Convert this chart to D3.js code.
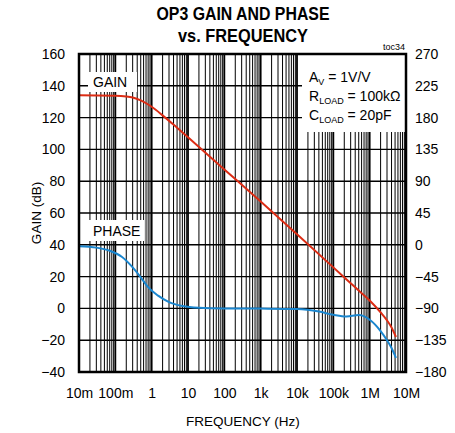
<!DOCTYPE html>
<html><head><meta charset="utf-8">
<script src="https://cdn.jsdelivr.net/npm/d3@7"></script>
<style>
body{margin:0;background:#fff;}
text{font-family:"Liberation Sans",Arial,sans-serif;fill:#000;}
</style></head>
<body><svg id="c" width="455" height="433"></svg>
<script>
// ---- data ----
const freqTicks = [0.01, 0.1, 1, 10, 100, 1e3, 1e4, 1e5, 1e6, 1e7];
const freqLabels = ["10m", "100m", "1", "10", "100", "1k", "10k", "100k", "1M", "10M"];
const gainTicks = [-40, -20, 0, 20, 40, 60, 80, 100, 120, 140, 160];
const phaseTicks = [-180, -135, -90, -45, 0, 45, 90, 135, 180, 225, 270];

const gainFreq = [0.01, 0.1, 0.2, 0.3, 0.5, 1, 2, 5, 10, 100, 1e3, 1e4, 1e5, 5e5, 1e6, 2e6, 3e6, 4e6, 5.3e6];
const gainDb   = [134, 133.8, 133.3, 132.6, 130.8, 126.8, 121.4, 113.6, 107.6, 87.4, 67.2, 46.6, 25.8, 11.2, 5, -2.5, -7.5, -12, -18];

const phaseFreq = [0.01, 0.03, 0.07, 0.15, 0.3, 0.5, 0.8, 1.5, 3, 7, 20, 100, 1e3, 1e4, 4e4, 1e5, 2.3e5, 5e5, 1e6, 2e6, 3e6, 4e6, 5.3e6];
const phaseDeg  = [-2, -4, -8.5, -17, -32, -46, -60, -72, -81, -86.5, -89, -90, -90.3, -91, -94.5, -99, -101.5, -99.5, -106, -122, -135, -146, -160];

// ---- layout ----
const svg = d3.select("#c");
const L = 79, R = 406, T = 54, B = 372;
const x = d3.scaleLog().domain([0.01, 1e7]).range([L, R]);
const y = d3.scaleLinear().domain([-40, 160]).range([B, T]);
const yp = d3.scaleLinear().domain([-180, 270]).range([B, T]);

// grid
const grid = svg.append("g");
const minor = [];
for (let e = -2; e < 7; e++) for (let k = 2; k <= 9; k++) minor.push(k * Math.pow(10, e));
grid.selectAll("line.mn").data(minor).enter().append("line")
  .attr("x1", d => x(d)).attr("x2", d => x(d)).attr("y1", T).attr("y2", B)
  .attr("stroke", "#000").attr("stroke-width", 1);
grid.selectAll("line.mj").data(freqTicks).enter().append("line")
  .attr("x1", d => x(d)).attr("x2", d => x(d)).attr("y1", T).attr("y2", B)
  .attr("stroke", "#000").attr("stroke-width", 1.8);
grid.selectAll("line.h").data(gainTicks).enter().append("line")
  .attr("x1", L).attr("x2", R).attr("y1", d => y(d)).attr("y2", d => y(d))
  .attr("stroke", "#000").attr("stroke-width", 1.4);

// white label boxes
svg.append("rect").attr("x", 88).attr("y", 72).attr("width", 49).attr("height", 20).attr("fill", "#fff");
svg.append("rect").attr("x", 88).attr("y", 220).attr("width", 56).attr("height", 21).attr("fill", "#fff");
svg.append("rect").attr("x", 302).attr("y", T).attr("width", R - 302).attr("height", 132 - T).attr("fill", "#fff");

svg.append("text").attr("x", 93).attr("y", 87).attr("font-size", 14).text("GAIN");
svg.append("text").attr("x", 93).attr("y", 236).attr("font-size", 14).text("PHASE");

const ann = svg.append("g").attr("font-size", 14);
function annLine(yy, main, sub, rest) {
  const t = ann.append("text").attr("x", 309).attr("y", yy);
  t.append("tspan").text(main);
  t.append("tspan").attr("font-size", 9).attr("dy", 3).text(sub);
  t.append("tspan").attr("dy", -3).text(rest);
}
annLine(82, "A", "V", " = 1V/V");
annLine(101, "R", "LOAD", " = 100k\u03A9");
annLine(120, "C", "LOAD", " = 20pF");

// curves
const lg = d3.line().x(d => x(d[0])).y(d => y(d[1])).curve(d3.curveMonotoneX);
const lp = d3.line().x(d => x(d[0])).y(d => yp(d[1])).curve(d3.curveMonotoneX);
svg.append("path").attr("d", lg(gainFreq.map((f, i) => [f, gainDb[i]])))
  .attr("fill", "none").attr("stroke", "#dc2c14").attr("stroke-width", 2);
svg.append("path").attr("d", lp(phaseFreq.map((f, i) => [f, phaseDeg[i]])))
  .attr("fill", "none").attr("stroke", "#1a86cf").attr("stroke-width", 2);

// frame
svg.append("rect").attr("x", L).attr("y", T).attr("width", R - L).attr("height", B - T)
  .attr("fill", "none").attr("stroke", "#000").attr("stroke-width", 2.5);

// axes
const ax = svg.append("g").attr("transform", `translate(0,${B})`)
  .call(d3.axisBottom(x).tickValues(freqTicks).tickFormat((d, i) => freqLabels[i]).tickSize(0).tickPadding(16));
const ay = svg.append("g").attr("transform", `translate(${L},0)`)
  .call(d3.axisLeft(y).tickValues(gainTicks).tickSize(0).tickPadding(14));
const ayr = svg.append("g").attr("transform", `translate(${R},0)`)
  .call(d3.axisRight(yp).tickValues(phaseTicks).tickSize(0).tickPadding(9));
[ax, ay, ayr].forEach(g => {
  g.select(".domain").remove();
  g.selectAll("text").attr("font-size", 14).attr("font-family", '"Liberation Sans",Arial,sans-serif');
});

// titles
svg.append("text").attr("x", 243).attr("y", 20).attr("text-anchor", "middle")
  .attr("font-size", 17.5).attr("font-weight", "bold")
  .attr("textLength", 173).attr("lengthAdjust", "spacingAndGlyphs").text("OP3 GAIN AND PHASE");
svg.append("text").attr("x", 243).attr("y", 42).attr("text-anchor", "middle")
  .attr("font-size", 17.5).attr("font-weight", "bold")
  .attr("textLength", 130).attr("lengthAdjust", "spacingAndGlyphs").text("vs. FREQUENCY");
svg.append("text").attr("x", 405).attr("y", 50).attr("text-anchor", "end")
  .attr("font-size", 9).text("toc34");
svg.append("text").attr("x", 243).attr("y", 426).attr("text-anchor", "middle")
  .attr("font-size", 13.5).text("FREQUENCY (Hz)");
svg.append("text").attr("transform", "translate(41,213) rotate(-90)").attr("text-anchor", "middle")
  .attr("font-size", 13.5).text("GAIN (dB)");
</script></body></html>
